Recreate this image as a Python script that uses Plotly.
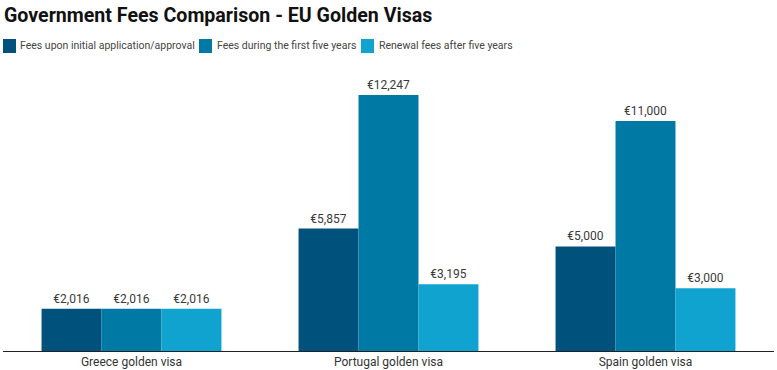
import plotly.graph_objects as go

categories = ["Greece golden visa", "Portugal golden visa", "Spain golden visa"]
series_names = ["Fees upon initial application/approval",
                "Fees during the first five years",
                "Renewal fees after five years"]
initial_fees = [2016, 5857, 5000]
first_five_years = [2016, 12247, 11000]
renewal_fees = [2016, 3195, 3000]
series_values = [initial_fees, first_five_years, renewal_fees]
colors = ["#00517c", "#0079a4", "#11a3cf"]

W, H = 777, 370
ML, MR, MT, MB = 3, 3, 80, 19

fig = go.Figure()
for name, vals, col in zip(series_names, series_values, colors):
    fig.add_trace(go.Bar(
        x=categories, y=vals, name=name, marker=dict(color=col, line=dict(width=0)),
        text=["€{:,}".format(v) for v in vals], textposition="outside",
        textfont=dict(family="Roboto", size=12, color="#3a3a3a"),
        cliponaxis=False, showlegend=False,
    ))

def px_x(p):
    return (p - ML) / (W - ML - MR)

def px_y(p):
    return 1 - (p - MT) / (H - MT - MB)

# custom legend (tight spacing like the reference)
legend_pos = [(3, 18), (199, 215), (361, 377)]
shapes = []
annotations = []
for (sx, tx), name, col in zip(legend_pos, series_names, colors):
    shapes.append(dict(type="rect", xref="paper", yref="paper",
                       x0=px_x(sx), x1=px_x(sx + 13), y0=px_y(53), y1=px_y(39),
                       fillcolor=col, line=dict(width=0)))
    annotations.append(dict(xref="paper", yref="paper", x=px_x(tx), y=px_y(46),
                            xanchor="left", yanchor="middle", showarrow=False,
                            text=name, font=dict(family="Roboto", size=10.5, color="#444444")))

fig.update_layout(
    width=W, height=H,
    margin=dict(l=ML, r=MR, t=MT, b=MB, pad=0),
    paper_bgcolor="white", plot_bgcolor="white",
    barmode="group", bargap=0.3, bargroupgap=0,
    title=dict(text="<b>Government Fees Comparison - EU Golden Visas</b>",
               xref="container", yref="container", x=4 / W, y=1 - 15 / H,
               xanchor="left", yanchor="middle",
               font=dict(family="Roboto", size=19.6, color="#111111")),
    xaxis=dict(showline=True, linecolor="#222222", linewidth=1, ticks="",
               tickfont=dict(family="Roboto", size=12, color="#333333"),
               showgrid=False, zeroline=False, automargin=False),
    yaxis=dict(visible=False, range=[0, 12247 * (H - MT - MB) / 256], showgrid=False),
    shapes=shapes, annotations=annotations,
    font=dict(family="Roboto"),
)

fig.write_html("out.html", config={"displayModeBar": False},
               post_script="document.body.style.margin='0px';document.body.style.padding='0px';")
